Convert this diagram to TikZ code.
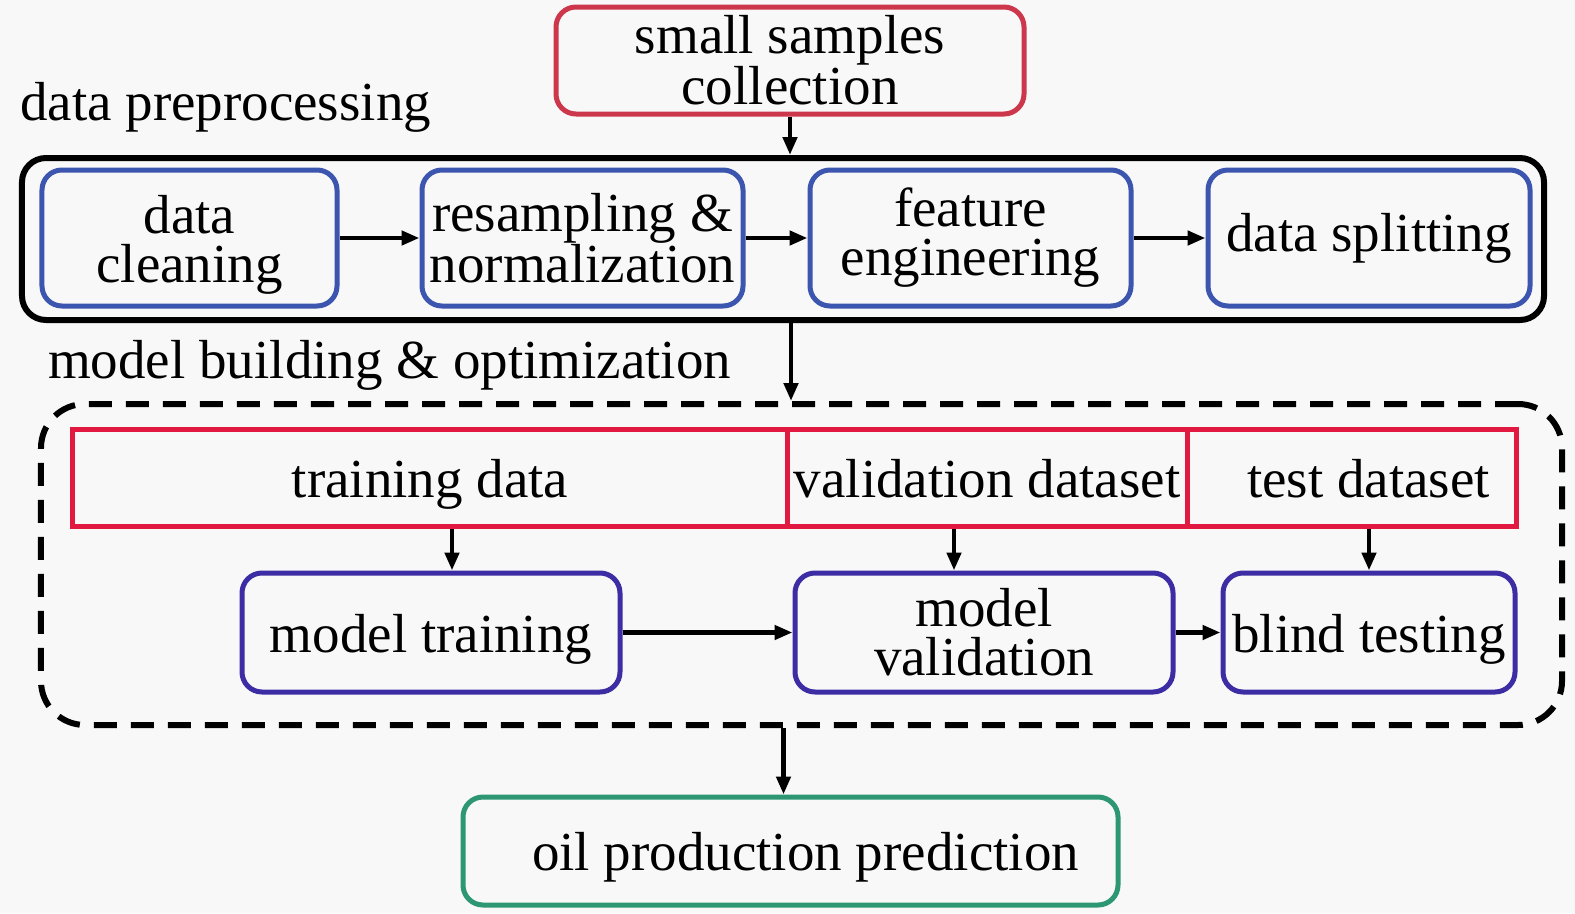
\documentclass[tikz,border=0pt]{standalone}
\usepackage{fontspec}
\setmainfont{Liberation Serif}
\usetikzlibrary{arrows.meta,positioning}
\definecolor{bgc}{RGB}{248,248,248}
\definecolor{redbox}{RGB}{205,55,75}
\definecolor{bluebox}{RGB}{60,85,175}
\definecolor{indigobox}{RGB}{60,45,165}
\definecolor{tablered}{RGB}{225,25,65}
\definecolor{greenbox}{RGB}{45,150,115}
\tikzset{
  every node/.style={font=\fontsize{55bp}{49bp}\selectfont, inner sep=0pt, align=center},
  rbox/.style={draw, line width=5bp, rounded corners=20bp},
  cell/.style={draw=tablered, line width=5bp},
  oneline/.style={text height=44bp, text depth=5bp},
  arr/.style={line width=4.5bp, -{Triangle[length=18bp,width=14bp]}},
}
\begin{document}
\begin{tikzpicture}[x=1bp,y=-1bp]
\useasboundingbox (0,0) rectangle (1575,913);
\fill[bgc] (0,0) rectangle (1575,913);

% top
\node[rbox, draw=redbox, minimum width=468bp, minimum height=107bp] (ssc) at (790,60.5) {small samples\\collection};
\node[anchor=base west] (lpre) at (20,120) {data preprocessing};

% preprocessing frame
\node[draw=black, line width=6bp, rounded corners=24bp, minimum width=1522bp, minimum height=162bp] (pre) at (783,239) {};
\node[rbox, draw=bluebox, minimum width=295bp, minimum height=136bp] (dc) at (189.5,238) {\rule{0pt}{52bp}data\\cleaning};
\node[rbox, draw=bluebox, minimum width=321bp, minimum height=136bp] (rn) at (582.5,238) {resampling \&\\normalization};
\node[rbox, draw=bluebox, minimum width=321bp, minimum height=136bp] (fe) at (970.5,238) {feature\\engineering};
\node[rbox, draw=bluebox, minimum width=322bp, minimum height=136bp] (ds) at (1369,238) {data splitting};

\draw[arr] (ssc.south) -- (ssc.south |- pre.north);
\draw[arr] (dc.east) -- (rn.west);
\draw[arr] (rn.east) -- (fe.west);
\draw[arr] (fe.east) -- (ds.west);

% model building
\node[anchor=base west] (lmb) at (48,378) {model building \& optimization};
\node[draw=black, line width=6bp, dash pattern=on 23bp off 14bp, rounded corners=44bp, minimum width=1521bp, minimum height=321bp] (mb) at (801.5,564.5) {};
\draw[arr] ([xshift=8bp]pre.south) -- ([xshift=8bp]pre.south |- mb.north);

\node[cell, oneline, minimum width=714bp, minimum height=97bp] (tr) at (430,477.5) {training data};
\node[cell, oneline, minimum width=400bp, minimum height=97bp] (va) at (987,477.5) {validation dataset};
\node[cell, oneline, minimum width=329bp, minimum height=97bp] (te) at (1351.5,477.5) {\hspace*{34bp}test dataset};

\node[rbox, oneline, draw=indigobox, minimum width=378bp, minimum height=119bp] (mt) at (431,632.5) {model training};
\node[rbox, draw=indigobox, minimum width=378bp, minimum height=119bp] (mv) at (984,632.5) {model\\validation};
\node[rbox, oneline, draw=indigobox, minimum width=292bp, minimum height=119bp] (bt) at (1369,632.5) {blind testing};

\draw[arr] ([xshift=22bp]tr.south) -- ([xshift=22bp]tr.south |- mt.north);
\draw[arr] ([xshift=-33bp]va.south) -- ([xshift=-33bp]va.south |- mv.north);
\draw[arr] (bt.north |- te.south) -- (bt.north);
\draw[arr] (mt.east) -- (mv.west);
\draw[arr] (mv.east) -- (bt.west);

% output
\node[rbox, oneline, draw=greenbox, minimum width=655bp, minimum height=108bp] (opp) at (790.5,851) {\hspace*{30bp}oil production prediction};
\draw[arr] ([xshift=-18bp]mb.south) -- ([xshift=-18bp]mb.south |- opp.north);
\end{tikzpicture}
\end{document}
